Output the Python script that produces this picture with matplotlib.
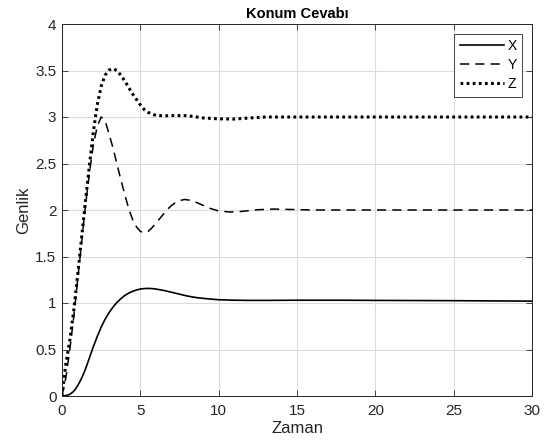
import matplotlib
matplotlib.use("Agg")
import matplotlib.pyplot as plt

plt.rcParams['font.family'] = ['Liberation Sans', 'DejaVu Sans']

# Time samples and series values
t_x = [0, 0.25, 0.5, 0.75, 1.0, 1.25, 1.5, 1.75, 2.0, 2.25, 2.5, 2.75, 3.0, 3.25, 3.5,
       3.75, 4.0, 4.25, 4.5, 4.75, 5.0, 5.25, 5.5, 5.75, 6.0, 6.5, 7.0, 7.5, 8.0, 8.5,
       9.0, 9.5, 10.0, 11.0, 12.0, 13.0, 15.0, 18.0, 20.0, 25.0, 30.0]
x_vals = [0, 0.004, 0.018, 0.05, 0.11, 0.19, 0.29, 0.41, 0.53, 0.64, 0.74, 0.825, 0.895, 0.955, 1.005,
          1.045, 1.08, 1.105, 1.125, 1.14, 1.15, 1.155, 1.157, 1.155, 1.15, 1.135, 1.115, 1.095, 1.075, 1.06,
          1.05, 1.042, 1.035, 1.03, 1.028, 1.028, 1.03, 1.03, 1.028, 1.025, 1.02]

t_y = [0, 0.25, 0.5, 0.75, 1.0, 1.25, 1.5, 1.75, 2.0, 2.25, 2.5, 2.75, 3.0, 3.25, 3.5,
       3.75, 4.0, 4.25, 4.5, 4.75, 5.0, 5.25, 5.5, 5.75, 6.0, 6.25, 6.5, 6.75, 7.0, 7.25,
       7.5, 7.8, 8.2, 8.6, 9.0, 9.5, 10.0, 10.7, 11.5, 12.5, 13.5, 14.5, 16.0, 20.0, 25.0, 30.0]
y_vals = [0, 0.2, 0.5, 0.85, 1.25, 1.65, 2.05, 2.4, 2.7, 2.9, 3.0, 2.96, 2.82, 2.67, 2.5,
          2.33, 2.17, 2.02, 1.9, 1.82, 1.77, 1.755, 1.77, 1.81, 1.86, 1.91, 1.96, 2.01, 2.05, 2.08,
          2.1, 2.113, 2.105, 2.08, 2.05, 2.015, 1.99, 1.978, 1.985, 2.003, 2.01, 2.006, 2.0, 2.0, 2.0, 2.0]

t_z = [0, 0.1, 0.25, 0.5, 0.75, 1.0, 1.25, 1.5, 1.75, 2.0, 2.25, 2.5, 2.75, 3.0, 3.25,
       3.5, 3.75, 4.0, 4.25, 4.5, 4.75, 5.0, 5.25, 5.5, 5.75, 6.0, 6.5, 7.0, 8.0, 9.0,
       10.0, 11.0, 12.0, 13.0, 15.0, 20.0, 25.0, 30.0]
z_vals = [0, 0.15, 0.35, 0.6, 0.92, 1.3, 1.7, 2.1, 2.48, 2.84, 3.13, 3.33, 3.45, 3.505, 3.52,
          3.5, 3.45, 3.39, 3.32, 3.25, 3.19, 3.13, 3.08, 3.05, 3.03, 3.018, 3.012, 3.015, 3.015, 2.99,
          2.98, 2.978, 2.99, 3.0, 3.0, 3.0, 3.0, 3.0]

labels = ['X', 'Y', 'Z']
title = 'Konum Cevabı'
xlabel = 'Zaman'
ylabel = 'Genlik'
xticks = [0, 5, 10, 15, 20, 25, 30]
yticks = [0, 0.5, 1, 1.5, 2, 2.5, 3, 3.5, 4]
ytick_labels = ['0', '0.5', '1', '1.5', '2', '2.5', '3', '3.5', '4']

fig = plt.figure(figsize=(5.44, 4.45), dpi=100)
ax = fig.add_axes([62/544, 1-396/445, 470/544, 372/445])

ax.plot(t_x, x_vals, color='black', lw=1.2, linestyle='-', label=labels[0])
ax.plot(t_y, y_vals, color='black', lw=1.1, linestyle=(0, (6, 4)), label=labels[1])
ax.plot(t_z, z_vals, color='black', lw=2.2, linestyle=(0, (0.9, 1.1)), label=labels[2])

ax.set_xlim(0, 30)
ax.set_ylim(0, 4)
ax.set_xticks(xticks)
ax.set_yticks(yticks)
ax.set_yticklabels(ytick_labels)
ax.grid(True, color='#dcdcdc', lw=0.8)
ax.set_axisbelow(True)
ax.tick_params(direction='in', length=4, width=0.6, colors='#262626', labelsize=11,
               top=True, right=True)
ax.tick_params(axis='x', pad=6)
ax.tick_params(axis='y', pad=4)
for s in ax.spines.values():
    s.set_color('#262626')
    s.set_linewidth(0.7)

ax.set_title(title, fontsize=10.5, fontweight='bold', pad=4)
ax.set_xlabel(xlabel, fontsize=12, color='#262626', labelpad=2)
ax.set_ylabel(ylabel, fontsize=12, color='#262626', labelpad=3)

leg = ax.legend(loc='upper right', fontsize=10, handlelength=3.2, handletextpad=0.25,
                borderpad=0.4, labelspacing=0.35, fancybox=False, framealpha=1,
                borderaxespad=0.7)
leg.get_frame().set_edgecolor('#262626')
leg.get_frame().set_linewidth(0.6)

fig.savefig('out.png', dpi=100)
